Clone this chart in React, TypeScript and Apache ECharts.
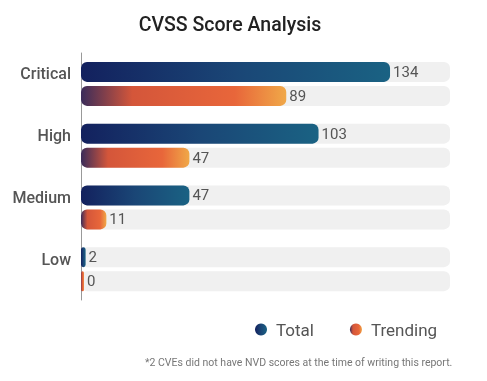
import React, { useEffect, useRef } from "react";
import * as echarts from "echarts";

const categories = ["Critical", "High", "Medium", "Low"];
const totalValues = [134, 103, 47, 2];
const trendingValues = [89, 47, 11, 0];
const seriesNames = ["Total", "Trending"];
const titleText = "CVSS Score Analysis";
const footnote = "*2 CVEs did not have NVD scores at the time of writing this report.";

export default function App() {
  const ref = useRef<HTMLDivElement>(null);
  useEffect(() => {
    if (!ref.current) return;
    const chart = echarts.init(ref.current, undefined, { renderer: "svg" });
    const totalGrad = new echarts.graphic.LinearGradient(0, 0, 1, 0, [
      { offset: 0, color: "#13215e" },
      { offset: 0.5, color: "#1a4676" },
      { offset: 1, color: "#1a6283" },
    ]);
    const trendGrad = new echarts.graphic.LinearGradient(0, 0, 1, 0, [
      { offset: 0, color: "#3a2c5a" },
      { offset: 0.25, color: "#d4563a" },
      { offset: 0.75, color: "#e8663a" },
      { offset: 1, color: "#f0a848" },
    ]);
    const labelStyle = {
      show: true,
      position: "right" as const,
      distance: 3,
      color: "#555",
      fontSize: 15,
      fontFamily: "Roboto",
    };
    chart.setOption({
      animation: false,
      textStyle: { fontFamily: "Roboto" },
      title: [
        {
          text: titleText,
          left: 225,
          top: 9,
          textAlign: "center",
          textStyle: { fontSize: 19.5, fontWeight: 500, color: "#222", fontFamily: "Roboto" },
        },
        {
          text: footnote,
          left: 140,
          top: 352,
          textStyle: { fontSize: 10.5, fontWeight: "normal", color: "#777", fontFamily: "Roboto" },
        },
      ],
      legend: {
        data: seriesNames,
        left: 250,
        top: 316,
        icon: "circle",
        itemWidth: 12,
        itemHeight: 12,
        itemGap: 36,
        textStyle: { fontSize: 17, color: "#555", fontFamily: "Roboto", padding: [0, 0, 0, 4] },
      },
      grid: { left: 81, top: 53, width: 369, height: 247, containLabel: false },
      xAxis: {
        type: "value",
        min: 0,
        max: 160,
        show: false,
      },
      yAxis: {
        type: "category",
        data: categories,
        inverse: true,
        axisLine: { show: true, lineStyle: { color: "#999", width: 1 } },
        axisTick: { show: false },
        axisLabel: {
          color: "#555",
          fontSize: 16,
          fontWeight: 500,
          fontFamily: "Roboto",
          margin: 10,
          verticalAlign: "bottom",
          lineHeight: 20,
        },
      },
      series: [
        {
          name: seriesNames[0],
          type: "bar",
          data: totalValues,
          barWidth: 20,
          barGap: "20%",
          barMinHeight: 3,
          itemStyle: { color: totalGrad, borderRadius: 6 },
          showBackground: true,
          backgroundStyle: { color: "#f0f0f0", borderRadius: 6 },
          label: labelStyle,
        },
        {
          name: seriesNames[1],
          type: "bar",
          data: trendingValues,
          barWidth: 20,
          barMinHeight: 3,
          itemStyle: { color: trendGrad, borderRadius: 6 },
          showBackground: true,
          backgroundStyle: { color: "#f0f0f0", borderRadius: 6 },
          label: labelStyle,
        },
      ],
    });
    return () => chart.dispose();
  }, []);
  return (
    <div
      ref={ref}
      style={{ position: "fixed", left: 0, top: 0, width: 487, height: 381 }}
    />
  );
}
